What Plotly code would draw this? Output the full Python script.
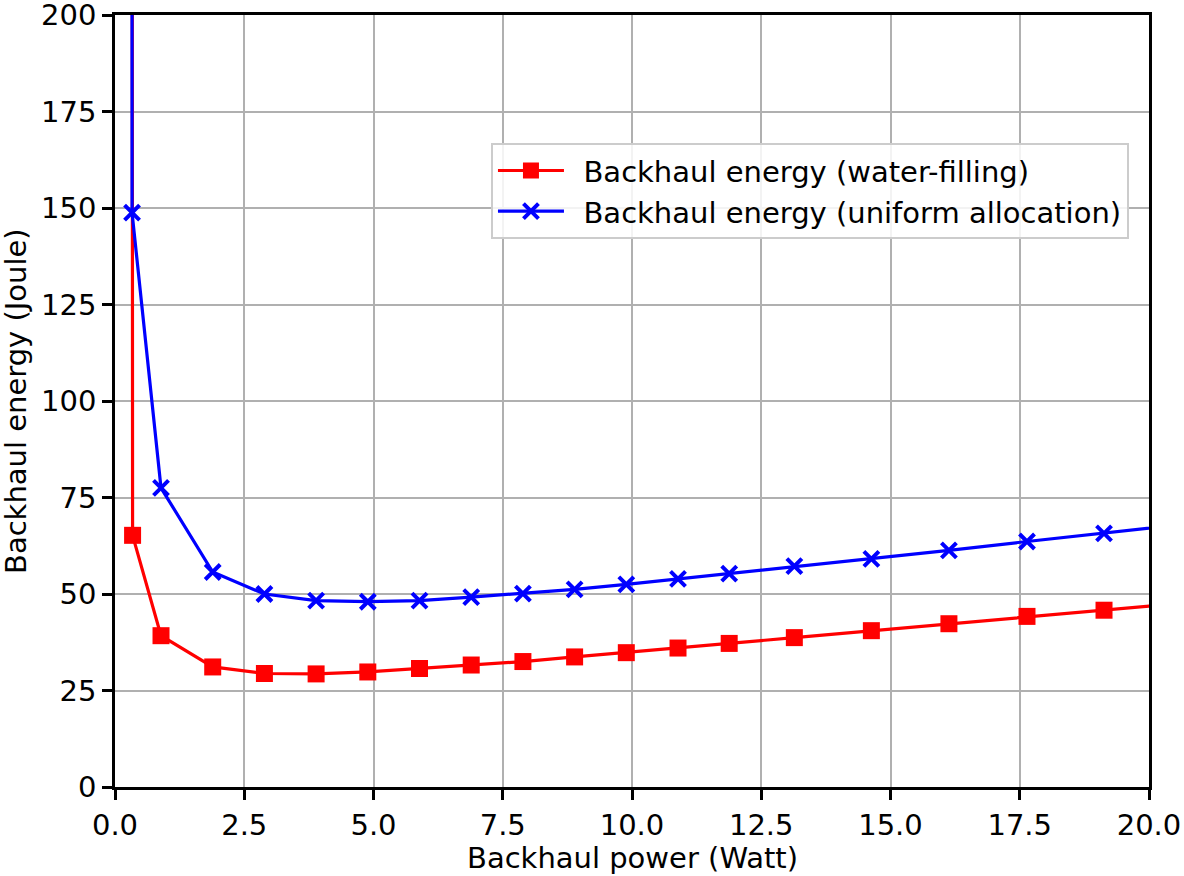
import plotly.graph_objects as go

power_wf = [0.32, 0.34, 0.89, 1.89, 2.89, 3.89, 4.89, 5.89, 6.89, 7.89, 8.89, 9.89,
            10.89, 11.88, 13.14, 14.63, 16.13, 17.64, 19.13, 20.63]
energy_wf = [600.0, 65.2, 39.2, 31.1, 29.4, 29.3, 29.8, 30.7, 31.6, 32.5, 33.7, 34.8,
             36.0, 37.2, 38.7, 40.5, 42.3, 44.2, 45.8, 47.6]

power_ua = [0.32, 0.33, 0.89, 1.89, 2.89, 3.89, 4.89, 5.89, 6.89, 7.89, 8.89, 9.89,
            10.89, 11.88, 13.14, 14.63, 16.13, 17.64, 19.13, 20.63]
energy_ua = [900.0, 148.8, 77.5, 55.7, 50.0, 48.3, 48.0, 48.3, 49.2, 50.1, 51.2, 52.5,
             53.9, 55.3, 57.2, 59.1, 61.3, 63.6, 65.7, 68.0]

x_ticks = [0.0, 2.5, 5.0, 7.5, 10.0, 12.5, 15.0, 17.5, 20.0]
y_ticks = [0, 25, 50, 75, 100, 125, 150, 175, 200]

FONT = "DejaVu Sans"
FS = 29

fig = go.Figure()
fig.add_trace(go.Scatter(
    x=power_wf, y=energy_wf, mode="lines+markers",
    name="\u2002Backhaul energy (water-filling)",
    line=dict(color="#ff0000", width=3.2),
    marker=dict(symbol="square", size=17, color="#ff0000"),
))
fig.add_trace(go.Scatter(
    x=power_ua, y=energy_ua, mode="lines+markers",
    name="\u2002Backhaul energy (uniform allocation)",
    line=dict(color="#0000ff", width=3.2),
    marker=dict(symbol="x-thin", size=15, color="#0000ff",
                line=dict(color="#0000ff", width=4)),
))

axis_common = dict(
    showgrid=True, gridcolor="#b0b0b0", gridwidth=2,
    showline=True, linecolor="black", linewidth=2.5, mirror=True,
    ticks="outside", ticklen=10, tickwidth=2.5, tickcolor="black",
    tickfont=dict(family=FONT, size=FS, color="black"),
    zeroline=False, automargin=False, ticklabeloverflow="allow",
)

fig.update_layout(
    width=1184, height=876,
    margin=dict(l=115, r=35, t=15, b=89),
    paper_bgcolor="white", plot_bgcolor="white",
    font=dict(family=FONT, size=FS, color="black"),
    xaxis=dict(range=[0, 20], tickvals=x_ticks,
               ticktext=[f"{v:.1f}" for v in x_ticks], **axis_common),
    yaxis=dict(range=[0, 200], tickvals=y_ticks, **axis_common),
    legend=dict(x=0.3636, y=0.834, xanchor="left", yanchor="top",
                bgcolor="rgba(255,255,255,0.85)", bordercolor="#cccccc", borderwidth=2,
                font=dict(family=FONT, size=FS, color="black"),
                itemwidth=66, tracegroupgap=0),
    showlegend=True,
    annotations=[
        dict(text="Backhaul power (Watt)", xref="paper", yref="paper",
             x=0.5, y=0, xanchor="center", yanchor="middle", yshift=-71,
             showarrow=False, font=dict(family=FONT, size=FS, color="black")),
        dict(text="Backhaul energy (Joule)", xref="paper", yref="paper",
             x=0, y=0.5, xanchor="center", yanchor="middle", xshift=-99,
             textangle=-90, showarrow=False,
             font=dict(family=FONT, size=FS, color="black")),
    ],
)

fig.write_html("out.html", config={"displayModeBar": False},
               post_script="document.body.style.margin='0';")
